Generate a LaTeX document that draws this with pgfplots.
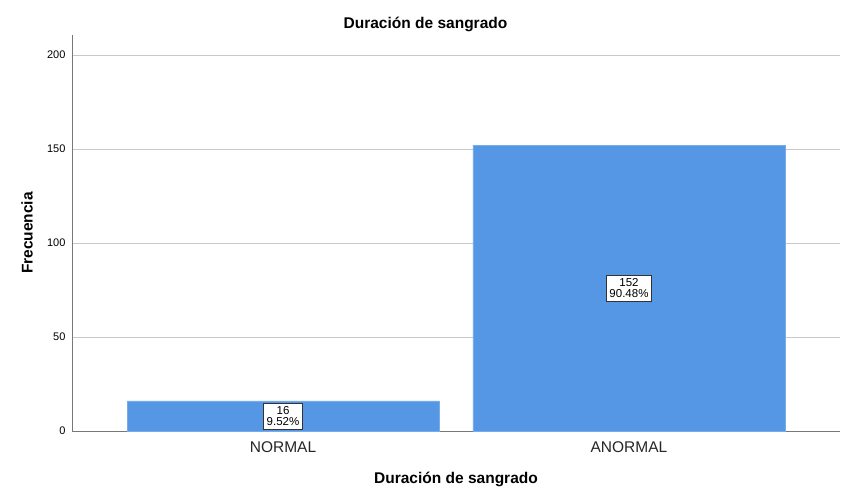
\documentclass[border=0pt]{standalone}
\usepackage{pgfplots}
\pgfplotsset{compat=1.18}
\usepackage{fontspec}
\setmainfont{Liberation Sans}
\definecolor{barblue}{RGB}{85,150,229}
\definecolor{gridgray}{RGB}{200,200,200}
\definecolor{axgray}{RGB}{120,120,120}
\begin{document}
\begin{tikzpicture}[x=1pt,y=1pt]
\path[use as bounding box] (0,0) rectangle (851,501);
\begin{axis}[
  at={(72pt,70pt)}, anchor=south west,
  scale only axis, width=768pt, height=396pt,
  xmin=-0.61, xmax=1.61, ymin=0, ymax=210.6,
  axis x line*=bottom, axis y line*=left,
  axis line style={axgray, line width=0.8pt, -},
  xtick={0,1}, xticklabels={NORMAL,ANORMAL},
  ytick={0,50,100,150,200},
  major tick length=0pt,
  ymajorgrids, major grid style={gridgray, line width=0.8pt},
  /pgf/number format/assume math mode=true,
  yticklabel style={font=\fontsize{11}{12}\selectfont, xshift=-3pt},
  xticklabel style={font=\fontsize{15.5}{17}\selectfont, yshift=-7pt, text=black!85},
  clip=false,
]
\addplot[ybar, bar width=312pt, fill=barblue, draw=barblue!80!white] coordinates {(0,16) (1,152)};
\addplot[draw=none, mark=none, point meta=explicit symbolic,
  nodes near coords,
  every node near coord/.style={anchor=center, fill=white, draw=black!80, line width=0.7pt,
    align=center, inner xsep=3pt, inner ysep=3.5pt,
    font=\fontsize{11.5}{11}\selectfont}]
  coordinates {(0,8) [16\\9.52\%] (1,76) [152\\90.48\%]};
\end{axis}
\node[font=\bfseries\fontsize{15.5}{18}\selectfont] at (425.5,477) {Duración de sangrado};
\node[font=\bfseries\fontsize{15.5}{18}\selectfont] at (456,22) {Duración de sangrado};
\node[font=\bfseries\fontsize{15.5}{18}\selectfont, rotate=90] at (27,268) {Frecuencia};
\end{tikzpicture}
\end{document}
